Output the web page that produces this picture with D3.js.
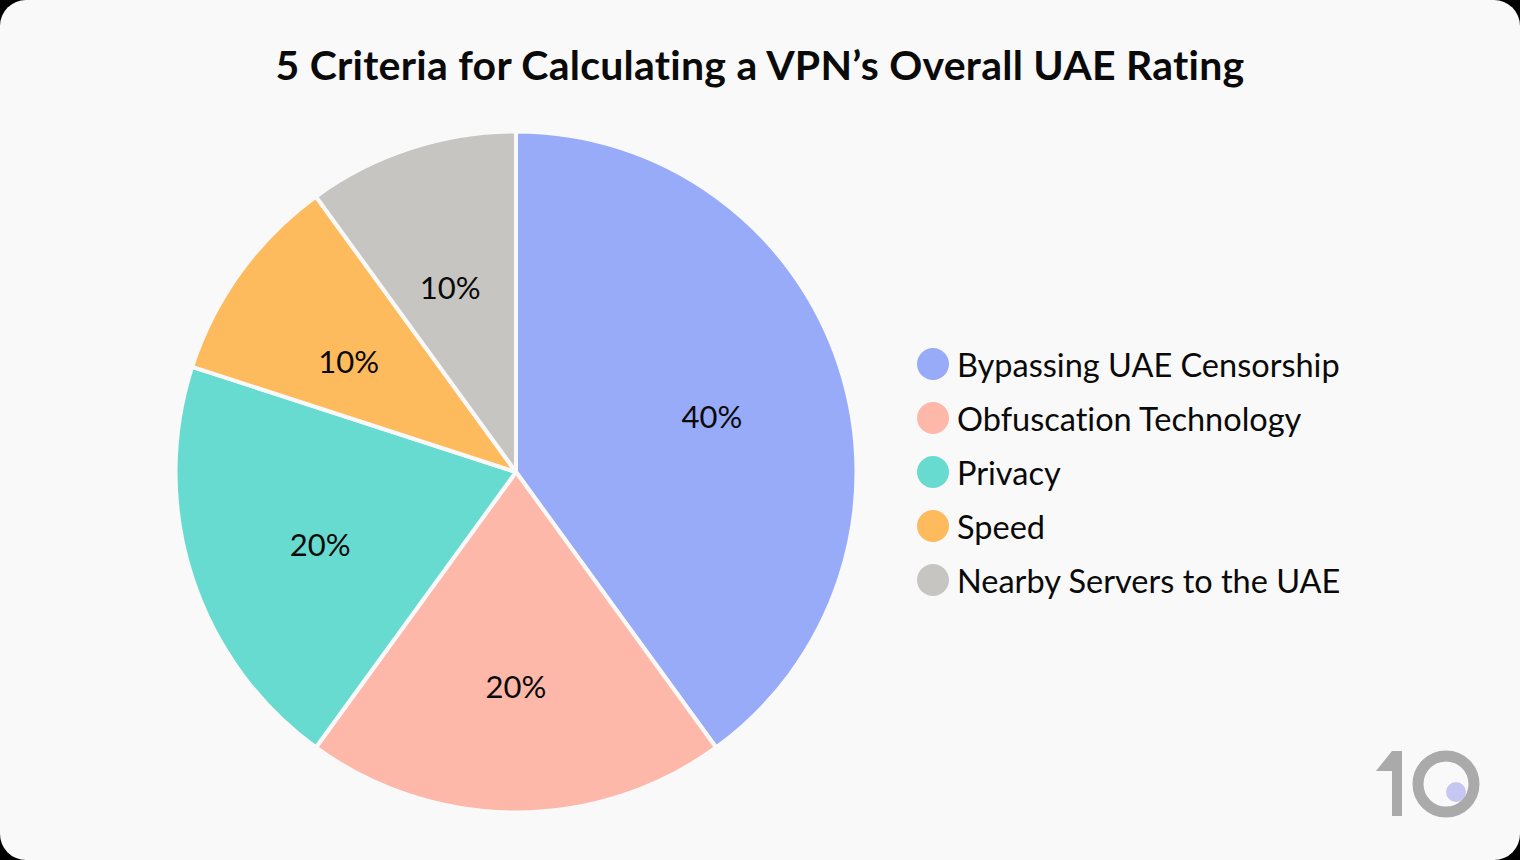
<!DOCTYPE html>
<html>
<head>
    <meta charset="utf-8">
    <style>
        html, body { margin: 0; padding: 0; background: #000; }
        svg { display: block; }
        text { font-family: Lato, sans-serif; fill: #0a0a0a; font-variant-ligatures: none; }
        .title { font-size: 41px; font-weight: 700; text-anchor: middle; letter-spacing: 0.25px; }
        .pct { font-size: 31px; text-anchor: middle; dominant-baseline: central; }
        .legend-label { font-size: 32.5px; dominant-baseline: central; }
    </style>
</head>
<body>
    <svg width="1520" height="860"></svg>
    <script src="https://d3js.org/d3.v7.min.js"></script>
    <script>
        const categories = ["Bypassing UAE Censorship", "Obfuscation Technology", "Privacy", "Speed", "Nearby Servers to the UAE"];
        const values = [40, 20, 20, 10, 10];
        const colors = ["#98abf8", "#fdb8aa", "#68dbd1", "#fdbb5e", "#c6c5c2"];

        const width = 1520, height = 860;
        const cx = 516, cy = 472, radius = 340.5;

        const svg = d3.select("svg");

        svg.append("rect")
            .attr("width", width)
            .attr("height", height)
            .attr("rx", 26)
            .attr("fill", "#f9f9f9");

        svg.append("text")
            .attr("class", "title")
            .attr("x", width / 2)
            .attr("y", 80)
            .text("5 Criteria for Calculating a VPN’s Overall UAE Rating");

        const pie = d3.pie().sort(null).value(d => d);
        const arc = d3.arc().innerRadius(0).outerRadius(radius);
        // the small slices have their labels a bit closer in
        const labelRadius = d => d.value == 10 ? 203 : 206;
        const labelArc = d3.arc().innerRadius(labelRadius).outerRadius(labelRadius);

        const slices = svg.append("g")
            .attr("transform", `translate(${cx},${cy})`)
            .selectAll("g")
            .data(pie(values))
            .join("g");

        slices.append("path")
            .attr("d", arc)
            .attr("fill", (d, i) => colors[i])
            .attr("stroke", "#f9f9f9")
            .attr("stroke-width", 4)
            .attr("stroke-linejoin", "round");

        slices.append("text")
            .attr("class", "pct")
            .attr("transform", d => `translate(${labelArc.centroid(d)})`)
            .attr("dx", d => d.value == 10 ? -3 : 0)
            .attr("dy", 8)
            .text(d => d.value + "%");

        // legend rows
        const legendY = d3.scalePoint().domain(categories).range([364, 580]);

        const legend = svg.append("g")
            .selectAll("g")
            .data(categories)
            .join("g")
            .attr("transform", d => `translate(933,${legendY(d)})`);

        legend.append("circle")
            .attr("r", 16)
            .attr("fill", (d, i) => colors[i]);

        legend.append("text")
            .attr("class", "legend-label")
            .attr("x", 24)
            .text(d => d);

        // logo in the corner
        const logo = svg.append("g").attr("transform", "translate(1376,751)");
        logo.append("path")
            .attr("d", "M16 0H26V65H16V20H0Z")
            .attr("fill", "#aaaaaa");
        logo.append("circle")
            .attr("cx", 70)
            .attr("cy", 33)
            .attr("r", 28)
            .attr("fill", "none")
            .attr("stroke", "#aaaaaa")
            .attr("stroke-width", 11);
        logo.append("circle")
            .attr("cx", 80)
            .attr("cy", 41)
            .attr("r", 10)
            .attr("fill", "#c6c6f2");
    </script>
</body>
</html>
